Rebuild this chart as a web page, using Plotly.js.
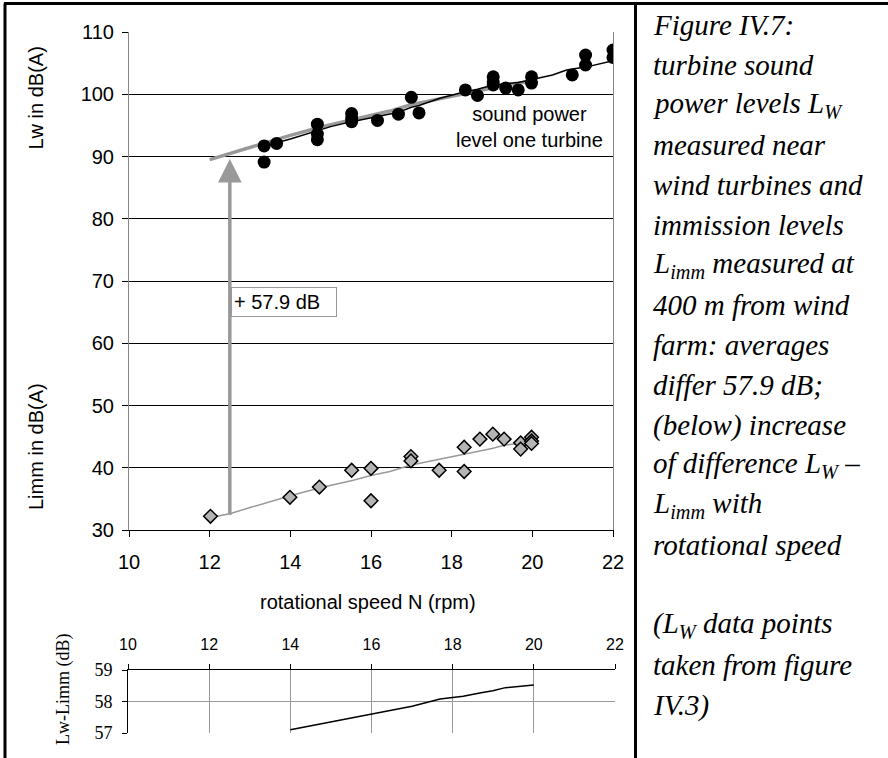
<!DOCTYPE html>
<html>
<head>
<meta charset="utf-8">
<script src="https://cdn.plot.ly/plotly-3.0.1.min.js"></script>
<style>
html,body{margin:0;padding:0;background:#fff;}
#chart{width:888px;height:758px;}
</style>
</head>
<body>
<div id="chart"></div>
<script>
// ---- data ----
const lwX = [13.35, 13.35, 13.66, 14.67, 14.67, 14.67, 15.52, 15.52, 15.52, 16.16, 16.68, 17.0, 17.19, 18.34, 18.64, 19.03, 19.03, 19.03, 19.34, 19.65, 19.98, 19.98, 20.99, 21.32, 21.32, 22.0, 22.0];
const lwY = [91.7, 89.1, 92.1, 95.2, 93.6, 92.7, 96.9, 96.2, 95.6, 95.8, 96.8, 99.5, 97.0, 100.7, 99.8, 102.8, 102.0, 101.5, 101.0, 100.7, 102.8, 101.8, 103.1, 106.3, 104.7, 107.1, 105.9];

const lwTrendX = [13.35, 13.66, 14.0, 14.67, 15.0, 15.52, 16.16, 16.68, 17.0, 17.19, 17.71, 18.33, 18.64, 19.03, 19.34, 19.65, 19.94, 20.5, 20.85, 21.35, 22.0];
const lwTrendY = [91.5, 92.2, 92.8, 94.1, 94.8, 95.6, 96.4, 97.1, 97.9, 98.2, 99.35, 100.4, 100.8, 101.5, 101.7, 101.9, 102.3, 103.1, 103.9, 104.4, 105.4];

const lwShiftX = [12.0, 12.5, 13.0, 13.5, 14.0, 14.74, 15.56, 16.02, 16.47, 16.97, 17.5, 18.21, 18.7, 19.0, 19.3, 19.7, 20.0];
const lwShiftY = [89.5, 90.5, 91.5, 92.5, 93.4, 94.7, 95.9, 96.7, 97.3, 98.3, 99.0, 99.9, 100.6, 101.0, 101.5, 101.8, 102.1];

const limmX = [12.02, 13.99, 14.72, 15.52, 16.0, 16.0, 16.99, 16.99, 17.69, 18.31, 18.31, 18.70, 19.02, 19.30, 19.71, 19.71, 19.98, 19.98, 19.98];
const limmY = [32.2, 35.25, 36.9, 39.6, 39.9, 34.7, 41.8, 41.1, 39.6, 43.3, 39.4, 44.6, 45.4, 44.6, 44.0, 43.0, 44.9, 44.3, 43.9];

const limmTrendX = [12.02, 12.5, 13.0, 13.5, 14.0, 14.74, 15.56, 16.02, 16.47, 16.97, 17.5, 18.21, 18.7, 19.0, 19.3, 19.7, 20.0];
const limmTrendY = [32.0, 32.6, 33.6, 34.6, 35.5, 36.8, 38.0, 38.8, 39.4, 40.4, 41.1, 42.0, 42.7, 43.1, 43.6, 43.9, 44.2];

const diffX = [14.0, 15.0, 16.0, 17.0, 17.69, 18.26, 18.7, 18.99, 19.3, 20.0];
const diffY = [57.1, 57.35, 57.6, 57.85, 58.08, 58.17, 58.28, 58.34, 58.44, 58.52];

const arrowN = 12.5;
const arrowFrom = 32.2;
const arrowTo = 89.6;
const diffLabel = "+ 57.9 dB";

const captionLines = [
  "Figure IV.7:",
  "turbine sound",
  "power levels L<sub>W</sub>",
  "measured near",
  "wind turbines and",
  "immission levels",
  "L<sub>imm</sub> measured at",
  "400 m from wind",
  "farm: averages",
  "differ 57.9 dB;",
  "(below) increase",
  "of difference L<sub>W</sub> \u2013",
  "L<sub>imm</sub> with",
  "rotational speed",
  "",
  "(L<sub>W</sub> data points",
  "taken from figure",
  "IV.3)"
];

// ---- layout helpers (pixel -> paper) ----
const W = 888, H = 758;
const ML = 128, MR = 273, MT = 32, MB = 25;
const PW = W - ML - MR, PH = H - MT - MB;
const px = v => (v - ML) / PW;
const py = v => (H - MB - v) / PH;

const sans = "Liberation Sans, Arial, sans-serif";
const serif = "Liberation Serif, Times New Roman, serif";

const traces = [
  {x: limmTrendX, y: limmTrendY, type: 'scatter', mode: 'lines', line: {color: '#999', width: 1.5}, xaxis: 'x', yaxis: 'y', hoverinfo: 'skip'},
  {x: lwShiftX, y: lwShiftY, type: 'scatter', mode: 'lines', line: {color: '#999', width: 3.5}, xaxis: 'x', yaxis: 'y', hoverinfo: 'skip'},
  {x: lwTrendX, y: lwTrendY, type: 'scatter', mode: 'lines', line: {color: '#000', width: 1.5}, xaxis: 'x', yaxis: 'y', hoverinfo: 'skip'},
  {x: lwX, y: lwY, type: 'scatter', mode: 'markers', marker: {symbol: 'circle', size: 13, color: '#000'}, xaxis: 'x', yaxis: 'y'},
  {x: limmX, y: limmY, type: 'scatter', mode: 'markers', marker: {symbol: 'diamond', size: 10.5, color: '#b4b4b4', line: {color: '#000', width: 1.5}}, xaxis: 'x', yaxis: 'y'},
  {x: diffX, y: diffY, type: 'scatter', mode: 'lines', line: {color: '#000', width: 1.5}, xaxis: 'x2', yaxis: 'y2'}
];

const annotations = [
  // arrow
  {x: arrowN, y: arrowTo, ax: arrowN, ay: arrowFrom, xref: 'x', yref: 'y', axref: 'x', ayref: 'y',
   text: '', showarrow: true, arrowhead: 2, arrowsize: 1.35, arrowwidth: 3.5, arrowcolor: '#999', standoff: 0},
  // difference box
  {x: 12.53, y: 66.7, xref: 'x', yref: 'y', xanchor: 'left', yanchor: 'middle', text: diffLabel, showarrow: false,
   font: {family: sans, size: 20, color: '#000'}, bgcolor: '#fff', bordercolor: '#999', borderwidth: 1, borderpad: 2,
   width: 100, height: 24, align: 'left'},
  // sound power label
  {x: 19.92, y: 94.8, xref: 'x', yref: 'y', xanchor: 'center', yanchor: 'middle', text: 'sound power<br>level one turbine', showarrow: false,
   font: {family: sans, size: 20, color: '#000'}, align: 'center'},
  // axis titles
  {x: px(36), y: py(98.5), xref: 'paper', yref: 'paper', xanchor: 'center', yanchor: 'middle', text: 'Lw in dB(A)', textangle: -90, showarrow: false,
   font: {family: sans, size: 20, color: '#000'}},
  {x: px(36), y: py(447), xref: 'paper', yref: 'paper', xanchor: 'center', yanchor: 'middle', text: 'Limm in dB(A)', textangle: -90, showarrow: false,
   font: {family: sans, size: 20, color: '#000'}},
  {x: px(367.5), y: py(602), xref: 'paper', yref: 'paper', xanchor: 'center', yanchor: 'middle', text: 'rotational speed N (rpm)', showarrow: false,
   font: {family: sans, size: 20, color: '#000'}},
  {x: px(63), y: py(690), xref: 'paper', yref: 'paper', xanchor: 'center', yanchor: 'middle', text: 'Lw-Limm (dB)', textangle: -90, showarrow: false,
   font: {family: serif, size: 18, color: '#000'}}
];

const lineH = 40;
const firstLine = 25;
captionLines.forEach((t, i) => {
  if (!t) return;
  annotations.push({x: px(651), y: py(firstLine + i * lineH), xref: 'paper', yref: 'paper', xanchor: 'left', yanchor: 'middle',
    text: '<i>' + t + '</i>', showarrow: false, align: 'left',
    font: {family: serif, size: 29, color: '#000'}});
});

const shapes = [
  {type: 'line', xref: 'paper', yref: 'paper', x0: px(5), x1: px(5), y0: py(3.5), y1: py(760), line: {color: '#000', width: 3}},
  {type: 'line', xref: 'paper', yref: 'paper', x0: px(4), x1: px(890), y0: py(3.5), y1: py(3.5), line: {color: '#000', width: 3}},
  {type: 'line', xref: 'paper', yref: 'paper', x0: px(635.5), x1: px(635.5), y0: py(3.5), y1: py(760), line: {color: '#000', width: 3}}
];

const layout = {
  width: W, height: H,
  margin: {l: ML, r: MR, t: MT, b: MB, pad: 0},
  paper_bgcolor: '#fff', plot_bgcolor: '#fff',
  showlegend: false,
  xaxis: {domain: [px(129), px(613)], range: [10, 22], tick0: 10, dtick: 2, ticks: 'outside', ticklen: 6, tickcolor: '#000',
    showline: true, linecolor: '#000', linewidth: 1, showgrid: false, zeroline: false, anchor: 'y',
    tickfont: {family: sans, size: 20, color: '#000'}, ticklabelstandoff: 8},
  yaxis: {domain: [py(530), 1], range: [30, 110], tick0: 30, dtick: 10, ticks: 'outside', ticklen: 6, tickcolor: '#000',
    showline: true, linecolor: '#888', mirror: true, showgrid: true, gridcolor: '#000', gridwidth: 1, zeroline: false, anchor: 'x',
    tickfont: {family: sans, size: 20, color: '#000'}, ticklabelstandoff: 4},
  xaxis2: {domain: [0, 1], range: [10, 22], tick0: 10, dtick: 2, side: 'top', ticks: 'outside', ticklen: 5, tickcolor: '#000',
    showline: true, linecolor: '#000', showgrid: true, gridcolor: '#999', zeroline: false, anchor: 'y2',
    tickfont: {family: sans, size: 16, color: '#000'}, ticklabelstandoff: 8},
  yaxis2: {domain: [0, py(670)], range: [57, 59], tick0: 57, dtick: 1, ticks: 'outside', ticklen: 5, tickcolor: '#000',
    showline: true, linecolor: '#000', showgrid: true, gridcolor: '#999', zeroline: false, anchor: 'x2',
    tickfont: {family: serif, size: 18, color: '#000'}, ticklabelstandoff: 6},
  annotations: annotations,
  shapes: shapes
};

Plotly.newPlot('chart', traces, layout, {staticPlot: true, displayModeBar: false});
</script>
</body>
</html>
